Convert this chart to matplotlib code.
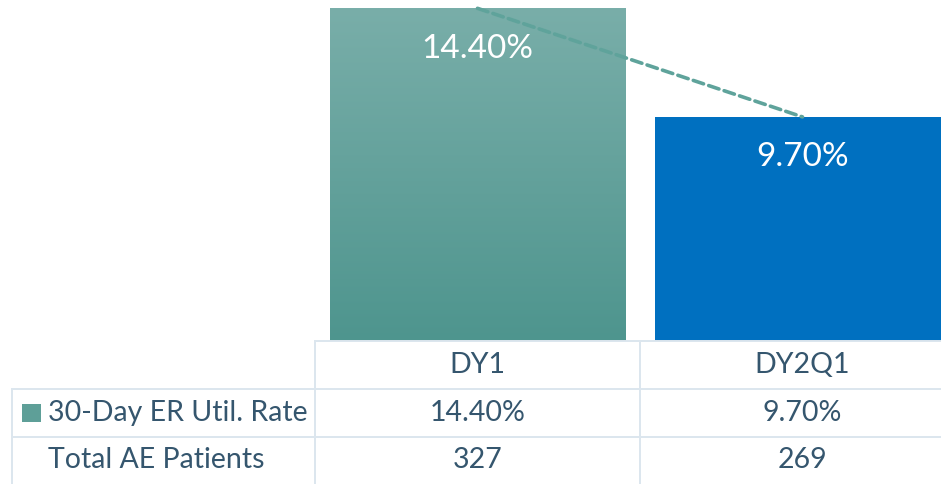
import numpy as np
import matplotlib.pyplot as plt
from matplotlib.colors import LinearSegmentedColormap
from matplotlib.patches import Rectangle

categories = ["DY1", "DY2Q1"]
er_rate = [14.40, 9.70]
total_patients = [327, 269]
rate_label = "30-Day ER Util. Rate"
count_label = "Total AE Patients"

W, H = 941, 484
plt.rcParams['font.family'] = ['Lato', 'DejaVu Sans']
text_col = '#35566E'
grid_col = '#DCE6EE'
fs = 20.5

fig = plt.figure(figsize=(W / 100, H / 100), dpi=100)

# bar area: each category is 325 px wide, baseline at 341 px from top
cat_w = 325
left = 315
base = 341
ax = fig.add_axes([left / W, (H - base) / H, 2 * cat_w / W, base / H])
x = np.arange(len(categories))
bars = ax.bar(x, er_rate, width=0.91, color=['none', '#0070C0'], linewidth=0)

# gradient fill on first bar
teal = LinearSegmentedColormap.from_list('teal', ['#4E958E', '#79AEA9'])
b0 = bars[0]
grad = np.linspace(0, 1, 256).reshape(-1, 1)
im = ax.imshow(grad, cmap=teal, origin='lower', aspect='auto',
               extent=(b0.get_x(), b0.get_x() + b0.get_width(), 0, b0.get_height()))
im.set_clip_path(b0)

ax.plot(x, er_rate, color='#5FA39B', lw=2.6, linestyle=(0, (3.0, 1.5)),
        dash_capstyle='round', zorder=3)

for xi, v in zip(x, er_rate):
    ax.text(xi, v - 1.75, f"{v:.2f}%", ha='center', va='center',
            color='white', fontsize=24, zorder=4)

ax.set_xlim(-0.5, 1.5)
ax.set_ylim(0, 14.76)
ax.axis('off')

# data table under the bars, in pixel coordinates
tab = fig.add_axes([0, 0, 1, 1])
tab.set_xlim(0, W)
tab.set_ylim(H, 0)
tab.axis('off')
rows = [base, 389, 437, H]
lw = 1.4
tab.plot([left, W], [rows[0], rows[0]], color=grid_col, lw=lw)
for y in rows[1:3]:
    tab.plot([12, W], [y, y], color=grid_col, lw=lw)
tab.plot([12, 12], [rows[1], H], color=grid_col, lw=lw)
for i in range(len(categories)):
    xv = left + i * cat_w
    tab.plot([xv, xv], [rows[0], H], color=grid_col, lw=lw)

def mid(r):
    return (rows[r] + rows[r + 1]) / 2

for i, cat in enumerate(categories):
    cx = left + cat_w * (i + 0.5)
    tab.text(cx, mid(0), cat, ha='center', va='center', color=text_col, fontsize=fs)
    tab.text(cx, mid(1), f"{er_rate[i]:.2f}%", ha='center', va='center', color=text_col, fontsize=fs)
    tab.text(cx, mid(2), str(total_patients[i]), ha='center', va='center', color=text_col, fontsize=fs)

tab.add_patch(Rectangle((22, mid(1) - 9), 19, 18, color='#5E9F98', lw=0))
tab.text(48, mid(1), rate_label, ha='left', va='center', color=text_col, fontsize=fs)
tab.text(48, mid(2), count_label, ha='left', va='center', color=text_col, fontsize=fs)

fig.savefig('out.png', dpi=100)
